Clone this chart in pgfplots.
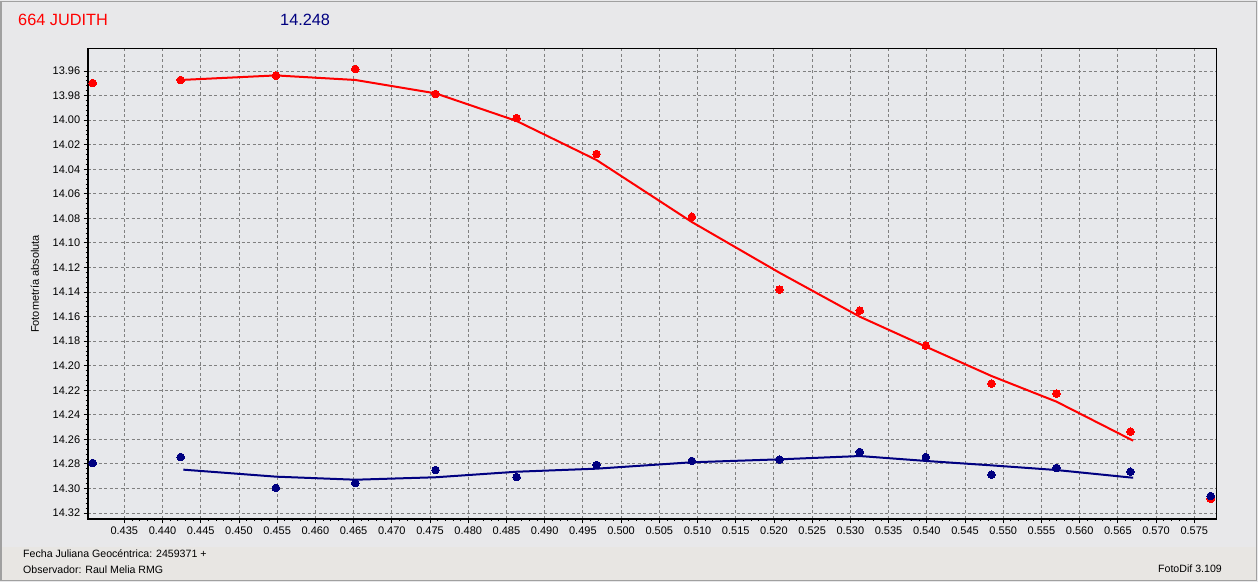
\documentclass[border=0pt]{standalone}
\usepackage{fontspec}
\setmainfont{Liberation Sans}
\usepackage{pgfplots}
\pgfplotsset{compat=1.18}
\definecolor{bgc}{HTML}{E8E8EA}
\definecolor{bandc}{HTML}{E8E6E3}
\definecolor{framec}{HTML}{A0A0A0}
\definecolor{plotbg}{HTML}{E7E8EB}
\definecolor{gridc}{HTML}{808080}
\definecolor{navyc}{HTML}{000080}
\definecolor{redc}{HTML}{FF0000}

\pgfplotstableread{
x y
0.43087 13.9698
0.44238 13.9673
0.45484 13.9638
0.46522 13.9584
0.47573 13.9787
0.48633 13.9983
0.49679 14.0276
0.50926 14.0787
0.52073 14.1381
0.53123 14.1552
0.53987 14.1837
0.54846 14.2147
0.55696 14.2228
0.56664 14.2538
0.57715 14.3085
}\redpts

\pgfplotstableread{
x y
0.44238 13.9673
0.45484 13.9636
0.46522 13.9673
0.47573 13.9782
0.48633 14.0007
0.49679 14.0325
0.50926 14.0830
0.52073 14.1243
0.53123 14.1601
0.53987 14.1845
0.54846 14.2084
0.55696 14.2293
0.56700 14.2611
}\redfit

\pgfplotstableread{
x y
0.43087 14.2793
0.44238 14.2744
0.45484 14.2996
0.46522 14.2956
0.47573 14.2850
0.48633 14.2907
0.49679 14.2809
0.50926 14.2776
0.52073 14.2766
0.53123 14.2703
0.53987 14.2744
0.54846 14.2888
0.55696 14.2833
0.56664 14.2864
0.57715 14.3062
}\bluepts

\pgfplotstableread{
x y
0.44272 14.2847
0.45484 14.2904
0.46522 14.2929
0.47573 14.2909
0.48633 14.2864
0.49679 14.2839
0.50926 14.2787
0.52073 14.2763
0.53123 14.2736
0.53987 14.2776
0.54846 14.2812
0.55696 14.2850
0.56700 14.2913
}\bluefit

\begin{document}
\begin{tikzpicture}[x=1pt,y=1pt]
\useasboundingbox (0,0) rectangle (1258,582);
\fill[bgc] (0,0) rectangle (1258,582);
\fill[bandc] (1,1) rectangle (1257,35);
\draw[framec, line width=1.5pt] (1,1.5) rectangle (1256.5,580.5);

\node[anchor=base west, text=redc, font=\fontsize{16.3}{18}\selectfont, inner sep=0pt] at (18,556) {664 JUDITH};
\node[anchor=base west, text=navyc, font=\fontsize{16.3}{18}\selectfont, inner sep=0pt] at (280,556) {14.248};

\node[rotate=90, font=\fontsize{11}{12}\selectfont] at (35,298) {Fotometría absoluta};
\node[anchor=west, font=\fontsize{10.6}{12}\selectfont, inner sep=0pt] at (23,28) {Fecha Juliana Geocéntrica: 2459371 +};
\node[anchor=west, font=\fontsize{10.6}{12}\selectfont, inner sep=0pt] at (23,12) {Observador: Raul Melia RMG};
\node[anchor=east, font=\fontsize{10.6}{12}\selectfont, inner sep=0pt] at (1222,13) {FotoDif 3.109};

\begin{axis}[
  at={(87.7pt,63pt)}, anchor=south west,
  scale only axis, width=1128.3pt, height=470.7pt,
  xmin=0.43021, xmax=0.57784, ymin=13.9415, ymax=14.3249,
  y dir=reverse,
  axis background/.style={fill=plotbg},
  axis line style={black, line width=1pt},
  xtick={0.435,0.440,0.445,0.450,0.455,0.460,0.465,0.470,0.475,0.480,0.485,0.490,0.495,0.500,0.505,0.510,0.515,0.520,0.525,0.530,0.535,0.540,0.545,0.550,0.555,0.560,0.565,0.570,0.575},
  ytick={13.96,13.98,14.00,14.02,14.04,14.06,14.08,14.10,14.12,14.14,14.16,14.18,14.20,14.22,14.24,14.26,14.28,14.30,14.32},
  minor x tick num=4, minor y tick num=4,
  xtick pos=bottom, ytick pos=left,
  tick align=outside,
  major tick length=4pt, minor tick length=2pt,
  tick style={black, line width=0.8pt},
  grid=major,
  major grid style={gridc, line width=0.9pt, dash pattern=on 3pt off 2.5pt},
  minor grid style={draw=none},
  xticklabel style={font=\fontsize{11}{12}\selectfont, /pgf/number format/.cd, fixed, fixed zerofill, precision=3, assume math mode=true},
  yticklabel style={font=\fontsize{11}{12}\selectfont, /pgf/number format/.cd, fixed, fixed zerofill, precision=2, assume math mode=true},
  scaled x ticks=false, scaled y ticks=false,
  clip=false,
]
\addplot[redc, line width=2pt, no markers] table[x=x,y=y] {\redfit};
\addplot[only marks, mark=*, mark size=3.8pt, mark options={fill=redc, draw=redc, line width=0pt}] table[x=x,y=y] {\redpts};
\addplot[navyc, line width=2pt, no markers] table[x=x,y=y] {\bluefit};
\addplot[only marks, mark=*, mark size=3.8pt, mark options={fill=navyc, draw=navyc, line width=0pt}] table[x=x,y=y] {\bluepts};
\draw[black, line width=2.2pt] (axis description cs:0,1) -- (axis description cs:0,0) -- (axis description cs:1,0);
\end{axis}
\end{tikzpicture}
\end{document}
